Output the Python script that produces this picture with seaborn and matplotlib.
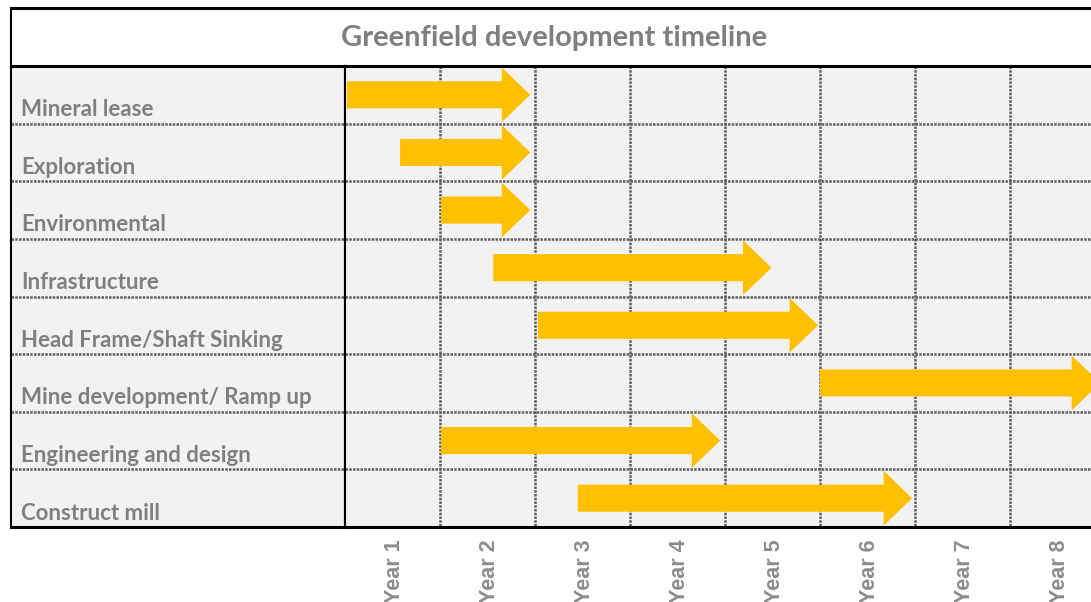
import matplotlib
matplotlib.use('Agg')
import matplotlib.pyplot as plt
import seaborn as sns

# Data (years from start of Year 1)
tasks = ['Mineral lease', 'Exploration', 'Environmental', 'Infrastructure',
         'Head Frame/Shaft Sinking', 'Mine development/ Ramp up',
         'Engineering and design', 'Construct mill']
start_year = [0.02, 0.58, 1.01, 1.56, 2.03, 5.0, 1.01, 2.45]
end_year = [1.95, 1.95, 1.95, 4.49, 4.98, 7.95, 3.95, 5.97]
year_labels = ['Year 1', 'Year 2', 'Year 3', 'Year 4',
               'Year 5', 'Year 6', 'Year 7', 'Year 8']

sns.set_theme(style='white')
plt.rcParams['font.family'] = ['Lato', 'DejaVu Sans']

W, H = 1091, 602
fig = plt.figure(figsize=(W / 100, H / 100), dpi=100)


def box(x0, y0, x1, y1):
    # pixel box (top-left origin) -> figure rect
    return [x0 / W, 1 - y1 / H, (x1 - x0) / W, (y1 - y0) / H]


n = len(tasks)
grey = '#7f7f7f'
dot = dict(colors='#5e5e5e', linestyles=(0, (1, 0.5)), linewidth=1.8, zorder=1)

# Title box
axt = fig.add_axes(box(11, 8, 1105, 66))
axt.set_facecolor('white')
axt.set_xticks([])
axt.set_yticks([])
for s in ['right', 'bottom']:
    axt.spines[s].set_visible(False)
axt.spines['top'].set_linewidth(2.2)
axt.spines['left'].set_linewidth(1.5)
for s in ['top', 'left']:
    axt.spines[s].set_color('black')
fig.text(554 / W, 1 - 38 / H, 'Greenfield development timeline', ha='center',
         va='center', fontsize=21, fontweight='bold', color=grey)

# Task label column
axl = fig.add_axes(box(11, 66, 345, 527))
axl.set_facecolor('#f2f2f2')
axl.set_xlim(0, 1)
axl.set_ylim(n, 0)
axl.set_xticks([])
axl.set_yticks([])
axl.hlines(range(1, n), 0, 1, **dot)
for i, t in enumerate(tasks):
    axl.text(10 / 334, i + 0.87, t, ha='left', va='baseline', fontsize=16,
             fontweight='bold', color=grey)
for s, lw in [('left', 1.5), ('top', 2.2), ('bottom', 2.2), ('right', 1.5)]:
    axl.spines[s].set_linewidth(lw)
    axl.spines[s].set_color('black')

# Gantt area
ax = fig.add_axes(box(345, 66, 1105, 527))
ax.set_facecolor('#f2f2f2')
ax.set_xlim(0, len(year_labels))
ax.set_ylim(n, 0)
ax.vlines(range(1, len(year_labels)), 0, n, **dot)
ax.hlines(range(1, n), 0, len(year_labels), **dot)

for i, (s, e) in enumerate(zip(start_year, end_year)):
    ax.arrow(s, i + 0.5, e - s, 0, width=0.47, head_width=0.95, head_length=0.3,
             length_includes_head=True, fc='#FFC000', ec='none', zorder=3)

ax.set_yticks([])
ax.set_xticks([k + 0.52 for k in range(len(year_labels))])
ax.set_xticklabels(year_labels, rotation=90, ha='center', va='top',
                   fontsize=15.5, fontweight='bold', color='#8c8c8c',
                   family=['Liberation Sans', 'DejaVu Sans'])
ax.tick_params(axis='x', length=0, pad=9)
for s, lw in [('left', 1.5), ('top', 2.2), ('bottom', 2.2)]:
    ax.spines[s].set_linewidth(lw)
    ax.spines[s].set_color('black')
ax.spines['right'].set_visible(False)

fig.savefig('out.png', dpi=100, facecolor='white')
